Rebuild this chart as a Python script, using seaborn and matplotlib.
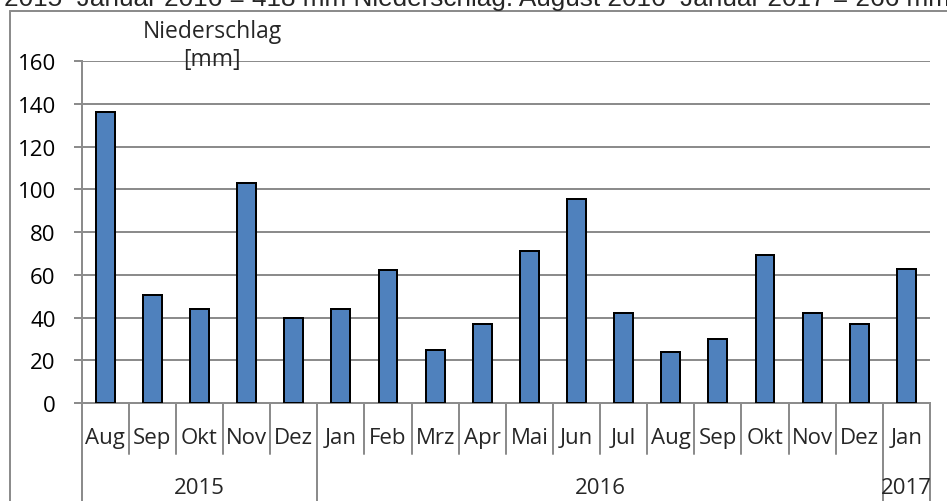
import matplotlib
matplotlib.use("Agg")
import matplotlib.pyplot as plt
import matplotlib.transforms as mtransforms
from matplotlib.lines import Line2D
import seaborn as sns
import pandas as pd

# ---- data ----
months = ["Aug", "Sep", "Okt", "Nov", "Dez", "Jan", "Feb", "Mrz", "Apr", "Mai",
          "Jun", "Jul", "Aug", "Sep", "Okt", "Nov", "Dez", "Jan"]
years = ["2015"] * 5 + ["2016"] * 12 + ["2017"]
rain_mm = [136.3, 50.5, 44.2, 103.0, 39.6, 44.2, 62.3, 24.6, 36.8, 71.0,
           95.3, 42.0, 23.7, 30.2, 69.3, 42.0, 36.8, 62.9]
year_labels = ["2015", "2016", "2017"]
y_ticks = [0, 20, 40, 60, 80, 100, 120, 140, 160]
title_lines = ["Niederschlag", "[mm]"]
header_text = "2015\u2013Januar 2016 = 418 mm Niederschlag. August 2016\u2013Januar 2017 = 266 mm"

# ---- style ----
sns.set_style("white")
plt.rcParams["font.family"] = ["Open Sans", "DejaVu Sans"]

W, H = 947, 502
GRAY = "#8c8c8c"
PX = 72 / 100  # points per pixel at dpi 100


def fx(x):
    return x / W


def fy(y):
    return 1 - y / H


fig = plt.figure(figsize=(W / 100, H / 100), dpi=100)

x_left, x_right, y_top, y_zero = 81.7, 930.0, 62.3, 404.0
ax = fig.add_axes([fx(x_left), fy(y_zero), (x_right - x_left) / W, (y_zero - y_top) / H])

keys = [f"{m} {y}" for m, y in zip(months, years)]
df = pd.DataFrame({"key": keys, "rain": rain_mm})
sns.barplot(data=df, x="key", y="rain", order=keys, color="#4F81BD", saturation=1,
            width=0.4, edgecolor="black", linewidth=2 * PX, ax=ax, zorder=3)

ax.set_xlim(-0.5, len(keys) - 0.5)
ax.set_ylim(0, 160)
ax.set_yticks(y_ticks)
ax.set_yticklabels([str(t) for t in y_ticks], fontsize=16)
ax.set_xticks([])
ax.set_xlabel("")
ax.set_ylabel("")
ax.set_axisbelow(True)
ax.yaxis.grid(True, color=GRAY, linewidth=2 * PX)
ax.xaxis.grid(False)
for s in ["top", "right"]:
    ax.spines[s].set_visible(False)
for s in ["left", "bottom"]:
    ax.spines[s].set_color(GRAY)
    ax.spines[s].set_linewidth(2 * PX)
ax.tick_params(axis="y", length=8 * PX, width=2 * PX, color=GRAY, pad=18 * PX,
               left=True, labelcolor="black", direction="out")

# category separators & labels below axis
trans = mtransforms.blended_transform_factory(ax.transData, fig.transFigure)
year_bounds = [0]
for i in range(1, len(years)):
    if years[i] != years[i - 1]:
        year_bounds.append(i)
year_bounds.append(len(years))
for i in range(len(keys) + 1):
    x = i - 0.5
    y_end = fy(H) if i in year_bounds else fy(455)
    fig.add_artist(Line2D([x, x], [fy(y_zero), y_end], transform=trans,
                          color=GRAY, linewidth=2 * PX))
for i, m in enumerate(months):
    fig.text(i, fy(439), m, transform=trans, ha="center", va="center", fontsize=16)
for k, yl in enumerate(year_labels):
    c = (year_bounds[k] + year_bounds[k + 1] - 1) / 2
    fig.text(c, fy(489), yl, transform=trans, ha="center", va="center", fontsize=16)

# axis title
fig.text(fx(212), fy(32), title_lines[0], ha="center", va="center", fontsize=16.5)
fig.text(fx(212), fy(60), title_lines[1], ha="center", va="center", fontsize=16.5)

# outer chart frame (partially visible)
fig.add_artist(Line2D([fx(9.5), fx(9.5)], [fy(12), 0], transform=fig.transFigure,
                      color=GRAY, linewidth=2 * PX))
fig.add_artist(Line2D([fx(9.5), 1], [fy(12), fy(12)], transform=fig.transFigure,
                      color=GRAY, linewidth=2 * PX))

# clipped header text from surrounding document
fig.text(fx(4), fy(6), header_text, ha="left", va="baseline", fontsize=18.8,
         family=["Liberation Sans", "DejaVu Sans"])

fig.savefig("out.png", dpi=100)
